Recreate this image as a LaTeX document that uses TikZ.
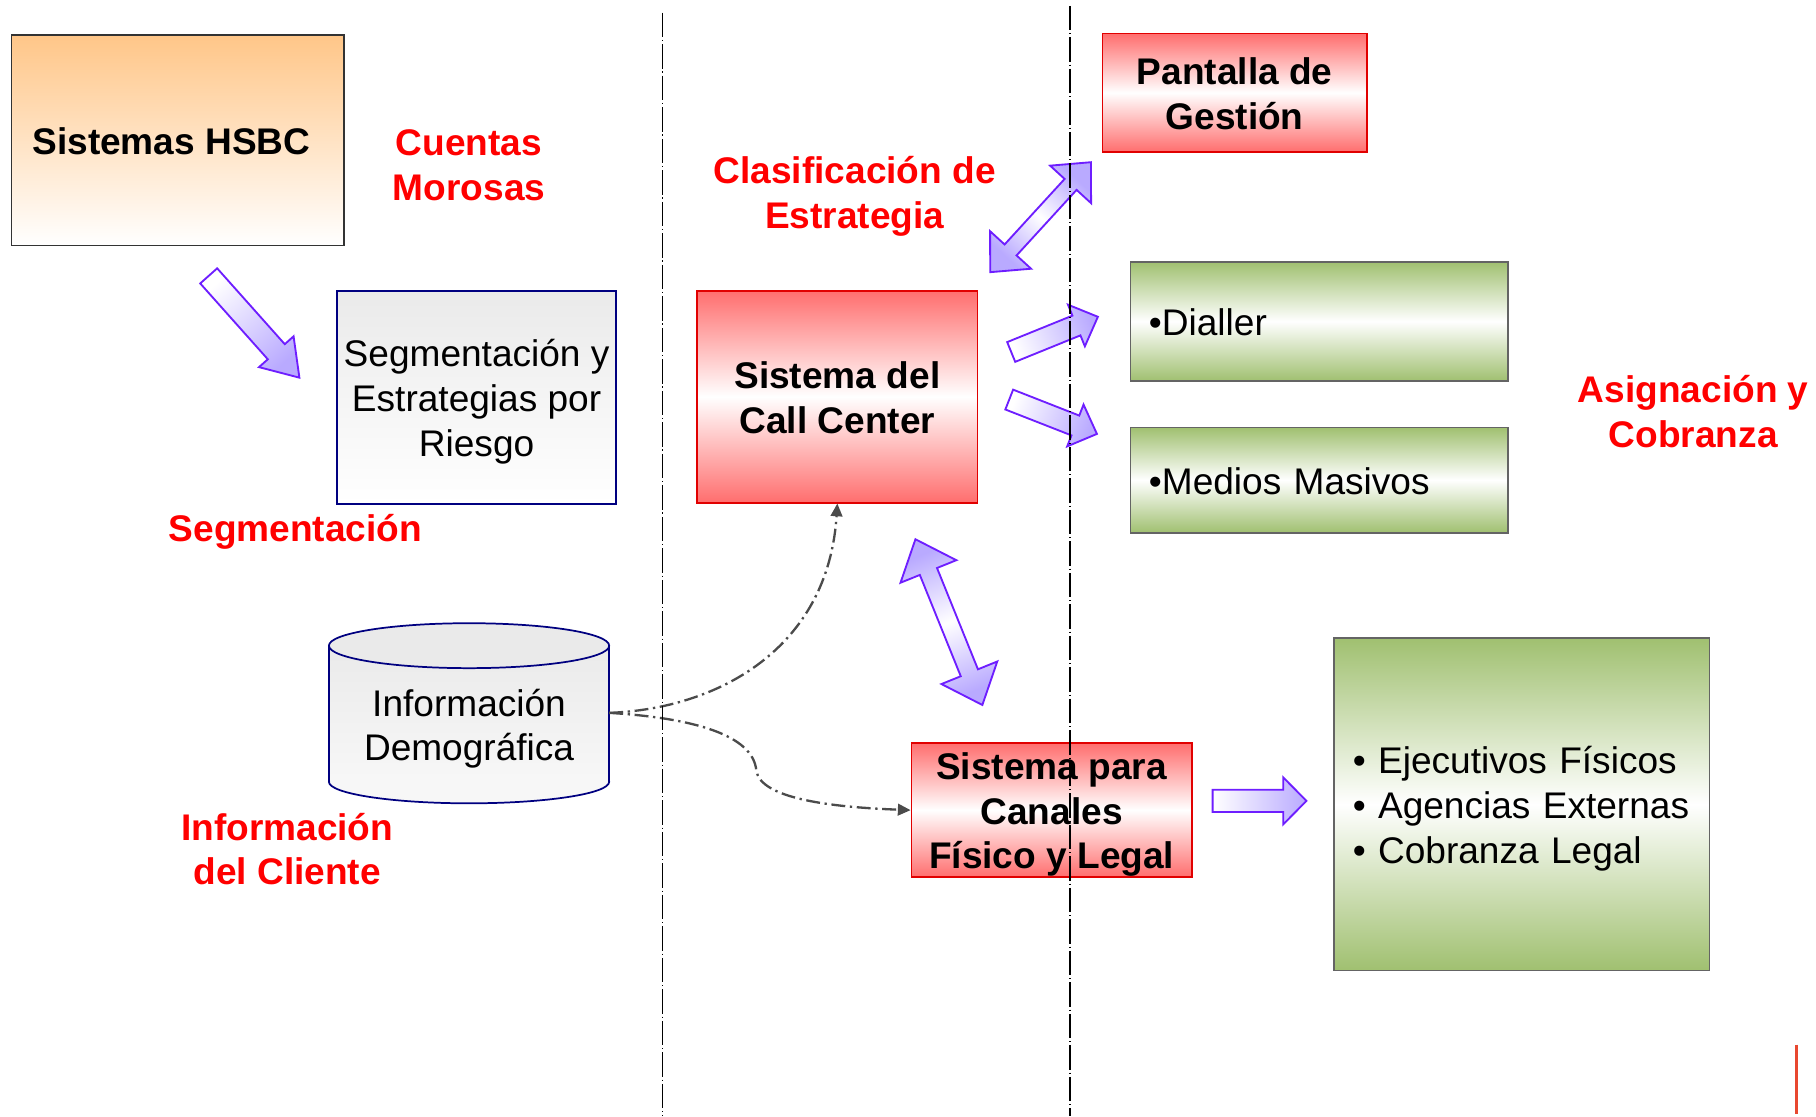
\documentclass[tikz,border=0pt]{standalone}
\usepackage{fontspec}
\setmainfont{Liberation Sans}
\usetikzlibrary{arrows.meta,calc}
\definecolor{hsbcor}{RGB}{255,198,136}
\definecolor{redtop}{RGB}{255,110,110}
\definecolor{redborder}{RGB}{225,0,0}
\definecolor{greentop}{RGB}{160,192,112}
\definecolor{greenborder}{RGB}{100,100,100}
\definecolor{navyb}{RGB}{0,0,128}
\definecolor{lgray}{RGB}{234,234,234}
\definecolor{purp}{RGB}{110,30,255}
\definecolor{lav}{RGB}{185,170,255}
\definecolor{conngray}{RGB}{75,75,75}
\definecolor{lblred}{RGB}{255,0,0}
\definecolor{markred}{RGB}{232,72,48}
\newcommand\fl{\rule[-7pt]{0pt}{38.5pt}}
\newcommand\getarrowgeom[2]{%
  \path (#1); \pgfgetlastxy{\arax}{\aray}%
  \path (#2); \pgfgetlastxy{\arbx}{\arby}%
  \pgfmathsetmacro\baang{atan2(\arby-\aray,\arbx-\arax)}%
  \pgfmathsetmacro\balen{veclen(\arbx-\arax,\arby-\aray)}%
  \pgfmathsetmacro\shang{\baang-90}%
}
\newcommand\singlearrow[5]{%
  \getarrowgeom{#1}{#2}%
  \pgfmathsetmacro\bl{\balen-#5}%
  \begin{scope}[shift={(\arax,\aray)}, rotate=\baang, x=1pt, y=1pt]
    \draw[blk, bottom color=white, top color=lav, shading angle=\shang]
      (0,-#3) -- (\bl,-#3) -- (\bl,-#4) -- (\balen,0) -- (\bl,#4) -- (\bl,#3) -- (0,#3) -- cycle;
  \end{scope}}
\newcommand\doublearrow[5]{%
  \getarrowgeom{#1}{#2}%
  \pgfmathsetmacro\bl{\balen-#5}%
  \begin{scope}[shift={(\arax,\aray)}, rotate=\baang, x=1pt, y=1pt]
    \draw[blk, bottom color=lav, top color=lav, middle color=white, shading angle=\shang]
      (0,0) -- (#5,-#4) -- (#5,-#3) -- (\bl,-#3) -- (\bl,-#4) -- (\balen,0) -- (\bl,#4) -- (\bl,#3) -- (#5,#3) -- (#5,#4) -- cycle;
  \end{scope}}
\begin{document}
\begin{tikzpicture}[x=1pt,y=-1pt,
  every node/.style={font=\fontsize{32}{38.5}\selectfont, inner sep=0pt},
  box/.style={rectangle, line width=1.5pt, align=center},
  hsbcbox/.style={box, draw=black!80, top color=hsbcor, bottom color=white, font=\fontsize{32}{38.5}\selectfont\bfseries},
  graybox/.style={box, draw=navyb, top color=lgray, bottom color=white},
  redbox/.style={box, draw=redborder, top color=redtop, bottom color=redtop, middle color=white, font=\fontsize{32}{38.5}\selectfont\bfseries},
  greenbox/.style={box, draw=greenborder, top color=greentop, bottom color=greentop, middle color=white, align=left},
  lbl/.style={text=lblred, font=\fontsize{32}{38.5}\selectfont\bfseries, align=center},
  divider/.style={line width=1.5pt, dash pattern=on 21pt off 2.5pt on 1.2pt off 2.5pt},
  conn/.style={draw=conngray, line width=2pt, dash pattern=on 12pt off 4pt on 2pt off 4pt, -{Triangle[length=11pt,width=10pt]}},
  blk/.style={draw=purp, line width=1.6pt, line join=miter},
]
\useasboundingbox (0,0) rectangle (1568,964);

% boxes
\node[hsbcbox, minimum width=287pt, minimum height=182pt] (hsbc) at (153.5,121) {\fl Sistemas HSBC\hspace{11pt}};
\node[graybox, minimum width=241pt, minimum height=184pt] (seg) at (411.5,343) {\fl Segmentación y\\Estrategias por\\\fl Riesgo};
\node[redbox, minimum width=242pt, minimum height=183pt] (callc) at (723,342.5) {\fl Sistema del\\\fl Call Center};
\node[redbox, minimum width=228pt, minimum height=102pt] (pant) at (1066,80) {\fl Pantalla de\\\fl Gestión};
\node[greenbox, minimum width=326pt, minimum height=103pt, text width=294pt, inner xsep=16pt] (dial) at (1139,277.5) {\fl •Dialler};
\node[greenbox, minimum width=326pt, minimum height=91pt, text width=294pt, inner xsep=16pt] (medios) at (1139,414.5) {\fl •Medios Masivos};
\node[redbox, minimum width=242pt, minimum height=115pt] (canal) at (908,699.5) {\fl Sistema para\\Canales\\\fl Físico y Legal};
\node[greenbox, minimum width=324pt, minimum height=287pt, text width=292pt, inner xsep=16pt] (ejec) at (1314,694.5) {\fl • Ejecutivos Físicos\\• Agencias Externas\\\fl • Cobranza Legal};

% cylinder
\fill[top color=lgray, bottom color=white!97!black] (284,557.5) rectangle (526,675);
\begin{scope}
  \clip (270,675) rectangle (540,700);
  \draw[navyb, line width=1.5pt, fill=white!97!black] (405,675) ellipse [x radius=121pt, y radius=18.6pt];
\end{scope}
\draw[navyb, line width=1.5pt] (284,557.5) -- (284,675) (526,557.5) -- (526,675);
\draw[navyb, line width=1.5pt, fill=lgray] (405,557.5) ellipse [x radius=121pt, y radius=19.4pt];
\node[align=center] (info) at (405,625.5) {\fl Información\\\fl Demográfica};
\coordinate (cylE) at (526,615.5);

% red labels
\node[lbl] (lcuentas) at (405,141.5) {\fl Cuentas\\\fl Morosas};
\node[lbl] (lseg) at (255,455.25) {\fl Segmentación};
\node[lbl] (lclas) at (738,165.5) {\fl Clasificación de\\\fl Estrategia};
\node[lbl] (lasig) at (1462,354.5) {\fl Asignación y\\\fl Cobranza};
\node[lbl] (linfo) at (248,732.5) {\fl Información\\\fl del Cliente};

% dash-dot connectors
\draw[conn] (cylE) .. controls (620,612) and (715,560) .. (callc.south);
\draw[conn] (cylE) .. controls (600,620) and (650,635) .. (653,665) .. controls (656,690) and (720,697) .. (canal.west);

% block arrows
\coordinate (a1s) at (180.2,238.2); \coordinate (a1e) at (258.7,326.3);
\coordinate (a2s) at (855,235);     \coordinate (a2e) at (942,140);
\coordinate (a3s) at (873.1,303.9); \coordinate (a3e) at (948,273.5);
\coordinate (a4s) at (871.4,345);   \coordinate (a4e) at (947.2,374.7);
\coordinate (a5s) at (790.4,465.6); \coordinate (a5e) at (848.2,608.7);
\coordinate (a6s) at (1047,691.5);  \coordinate (a6e) at (1128,691.5);
\singlearrow{a1s}{a1e}{9.8}{20}{30}
\doublearrow{a2s}{a2e}{7}{24}{26}
\singlearrow{a3s}{a3e}{9.2}{19.4}{20}
\singlearrow{a4s}{a4e}{9.2}{19.4}{20}
\doublearrow{a5s}{a5e}{8}{26}{30}
\singlearrow{a6s}{a6e}{9.6}{20.3}{20}

% dividers
\coordinate (d1t) at (572,11); \coordinate (d1b) at (572,964);
\coordinate (d2t) at (924,5);  \coordinate (d2b) at (924,964);
\draw[divider] (d1t) -- (d1b);
\draw[divider] (d2t) -- (d2b);

% red mark
\coordinate (mt) at (1551,902); \coordinate (mb) at (1551,962);
\draw[markred, line width=3pt] (mt) -- (mb);
\end{tikzpicture}
\end{document}
